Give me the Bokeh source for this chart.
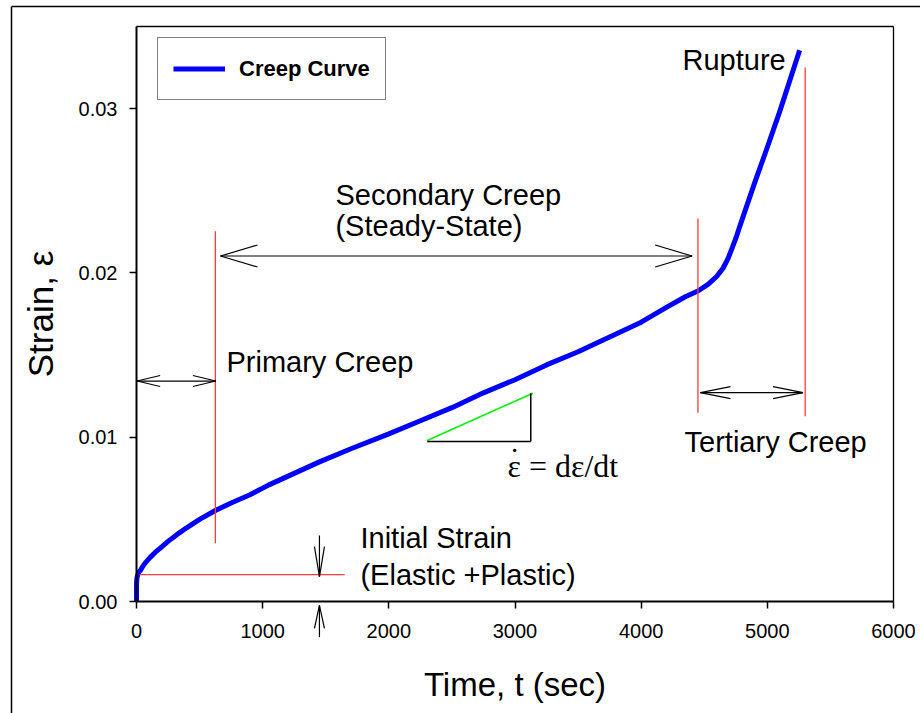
from bokeh.plotting import figure
from bokeh.models import (Range1d, FixedTicker, PrintfTickFormatter, Label,
                          LinearAxis)
from bokeh.embed import file_html
from bokeh.resources import INLINE

# ---- creep curve (time in s, strain) ----
time_s = [0, 0, 1, 4, 10, 20, 32, 50, 75, 110, 150, 200, 250, 325, 400, 500,
          625, 750, 900, 1050, 1250, 1450, 1700, 2000, 2250, 2500, 2750, 3000,
          3250, 3500, 3750, 4000, 4200, 4350, 4450, 4530, 4600, 4650, 4690,
          4720, 4750, 4780, 4820, 4900, 5000, 5100, 5200, 5256]
strain = [0.0, 0.0008, 0.0012, 0.00145, 0.00162, 0.0018, 0.0019, 0.00215,
          0.0024, 0.0027, 0.0030, 0.00333, 0.00366, 0.0041, 0.0045, 0.0050,
          0.00554, 0.0060, 0.0065, 0.0071, 0.0078, 0.0085, 0.0093, 0.0102,
          0.0110, 0.0118, 0.0127, 0.0135, 0.0144, 0.0152, 0.0161, 0.0170,
          0.0179, 0.01855, 0.0189, 0.0193, 0.0198, 0.0203, 0.0209, 0.0215,
          0.0221, 0.0228, 0.0237, 0.0255, 0.02765, 0.02986, 0.03223, 0.03356]

x_ticks = [0, 1000, 2000, 3000, 4000, 5000, 6000]
y_ticks = [0.00, 0.01, 0.02, 0.03]

# stage boundaries (s) and initial strain
t_primary_end = 625
t_secondary_end = 4450
t_rupture = 5300
initial_strain = 0.00164

X_MAX, Y_MAX = 6000, 0.035

# pixel geometry of the page: the data box spans 757 x 575 px,
# its lower-left corner sits at (136, 601) on a 920 x 713 canvas
W, H = 920, 713
BOX_L, BOX_B, BOX_W, BOX_H = 136, 601, 757, 575
sec_per_px = X_MAX / BOX_W
eps_per_px = Y_MAX / BOX_H


def px_to_data(x, y):
    return (x - BOX_L) * sec_per_px, (BOX_B - y) * eps_per_px


x_lo, y_lo = px_to_data(0, H)
x_hi, y_hi = px_to_data(W, 0)

FONT = "Liberation Sans"

p = figure(frame_width=W, frame_height=H, min_border=0,
           x_range=Range1d(x_lo, x_hi), y_range=Range1d(y_lo, y_hi),
           x_axis_location=None, y_axis_location=None,
           output_backend="svg", toolbar_location=None,
           background_fill_color="white", border_fill_color="white")
p.xgrid.visible = False
p.ygrid.visible = False
p.outline_line_color = None

xaxis = LinearAxis(fixed_location=0, bounds=(0, X_MAX))
yaxis = LinearAxis(fixed_location=0, bounds=(0, Y_MAX))
for ax in (xaxis, yaxis):
    ax.axis_line_width = 2
    ax.axis_line_color = "black"
    ax.major_tick_out = 7
    ax.major_tick_in = 0
    ax.minor_tick_line_color = None
    ax.major_tick_line_width = 1.5
    ax.major_label_text_font = FONT
    ax.major_label_text_font_size = "20px"
    ax.major_label_text_color = "black"
    ax.axis_label_text_font = FONT
    ax.axis_label_text_font_style = "normal"
    ax.axis_label_text_color = "black"

xaxis.ticker = FixedTicker(ticks=x_ticks)
xaxis.formatter = PrintfTickFormatter(format="%d")
xaxis.axis_label = "Time, t (sec)"
xaxis.axis_label_text_font_size = "33px"
xaxis.major_label_standoff = 15
xaxis.axis_label_standoff = 25

yaxis.ticker = FixedTicker(ticks=y_ticks)
yaxis.formatter = PrintfTickFormatter(format="%.2f")
yaxis.axis_label = "Strain, \u03b5"
yaxis.axis_label_text_font_size = "35px"
yaxis.major_label_standoff = 12
yaxis.axis_label_standoff = 16

p.add_layout(xaxis, "below")
p.add_layout(yaxis, "left")

# top and right edges of the data box
p.segment(x0=[0, X_MAX], y0=[Y_MAX, 0], x1=[X_MAX, X_MAX], y1=[Y_MAX, Y_MAX],
          line_color="black", line_width=1.3)

# page border (top and left edges)
bx0, by0 = px_to_data(11, 6)
p.segment(x0=[bx0, bx0], y0=[by0, by0], x1=[x_hi, bx0], y1=[by0, y_lo],
          line_color="black", line_width=1.5)

# creep curve
p.line(time_s, strain, line_color="#0000ff", line_width=5,
       line_join="round", legend_label="Creep Curve")

# red stage markers
red = "#ff3b3b"
p.segment(x0=[t_primary_end, 25, t_secondary_end, t_rupture],
          y0=[0.00355, initial_strain, 0.01149, 0.01127],
          x1=[t_primary_end, 1650, t_secondary_end, t_rupture],
          y1=[0.02253, initial_strain, 0.02331, 0.0325],
          line_color=red, line_width=1.3)

# slope triangle
p.segment(x0=[2304], y0=[0.0098], x1=[3142], y1=[0.01268],
          line_color="#00f000", line_width=1.6)
p.segment(x0=[2304, 3125], y0=[0.00974, 0.00974],
          x1=[3125, 3125], y1=[0.00974, 0.01268],
          line_color="black", line_width=1.5)


# ---- dimension arrows with open narrow heads (head size in pixels) ----
def arrow_parts(x0, y0, x1, y1, head_start, head_end, length, half):
    parts = [(x0, y0, x1, y1)]
    dx = (x1 - x0) / sec_per_px
    dy = (y1 - y0) / eps_per_px
    n = (dx * dx + dy * dy) ** 0.5
    ux, uy = dx / n, dy / n
    px, py = -uy, ux

    def head(tx, ty, sgn):
        for s in (1, -1):
            wx = tx + (-sgn * ux * length + s * px * half) * sec_per_px
            wy = ty + (-sgn * uy * length + s * py * half) * eps_per_px
            parts.append((tx, ty, wx, wy))

    if head_end:
        head(x1, y1, 1)
    if head_start:
        head(x0, y0, -1)
    return parts


segs = []
segs += arrow_parts(666, 0.02103, 4404, 0.02103, True, True, 37, 11)     # secondary
segs += arrow_parts(5, 0.01342, 629, 0.01342, True, True, 23, 5.5)      # primary
segs += arrow_parts(4470, 0.01271, 5283, 0.01271, True, True, 30, 6)    # tertiary
segs += arrow_parts(1450, 0.00402, 1450, 0.00152, False, True, 30, 5)   # initial, down
segs += arrow_parts(1450, -0.00217, 1450, -0.00024, False, True, 23, 5)  # initial, up

p.segment(x0=[s[0] for s in segs], y0=[s[1] for s in segs],
          x1=[s[2] for s in segs], y1=[s[3] for s in segs],
          line_color="black", line_width=1.2)

# ---- stage annotations ----
notes = [
    ("Secondary Creep", 1577, 0.02477),
    ("(Steady-State)", 1577, 0.02286),
    ("Primary Creep", 713, 0.01455),
    ("Initial Strain", 1775, 0.00384),
    ("(Elastic +Plastic)", 1775, 0.00164),
    ("Rupture", 4328, 0.03295),
    ("Tertiary Creep", 4344, 0.0097),
]
for txt, tx, ty in notes:
    p.add_layout(Label(x=tx, y=ty, text=txt, text_font=FONT,
                       text_font_size="29px", text_color="black",
                       text_baseline="alphabetic", text_align="left"))

# strain-rate definition: epsilon with a dot above it
p.add_layout(Label(x=2941, y=0.00822, text="\u03b5 = d\u03b5/dt",
                   text_font="Liberation Serif", text_font_size="32px",
                   text_color="black", text_baseline="alphabetic",
                   text_align="left"))
p.add_layout(Label(x=2941, y=0.00822, x_offset=7, y_offset=7,
                   text="\u02d9", text_font="Liberation Serif",
                   text_font_size="32px", text_color="black",
                   text_baseline="alphabetic", text_align="center"))

# legend
lg = p.legend[0]
lg.location = (157, H - 39 - 61)
lg.border_line_color = "black"
lg.border_line_width = 1.3
lg.background_fill_color = "white"
lg.background_fill_alpha = 1
lg.padding = 15
lg.margin = 0
lg.glyph_width = 52
lg.glyph_height = 31
lg.label_height = 31
lg.label_standoff = 14
lg.label_text_font = FONT
lg.label_text_font_size = "22px"
lg.label_text_font_style = "bold"
lg.label_text_color = "black"

open("out.html", "w").write(file_html(p, INLINE))
